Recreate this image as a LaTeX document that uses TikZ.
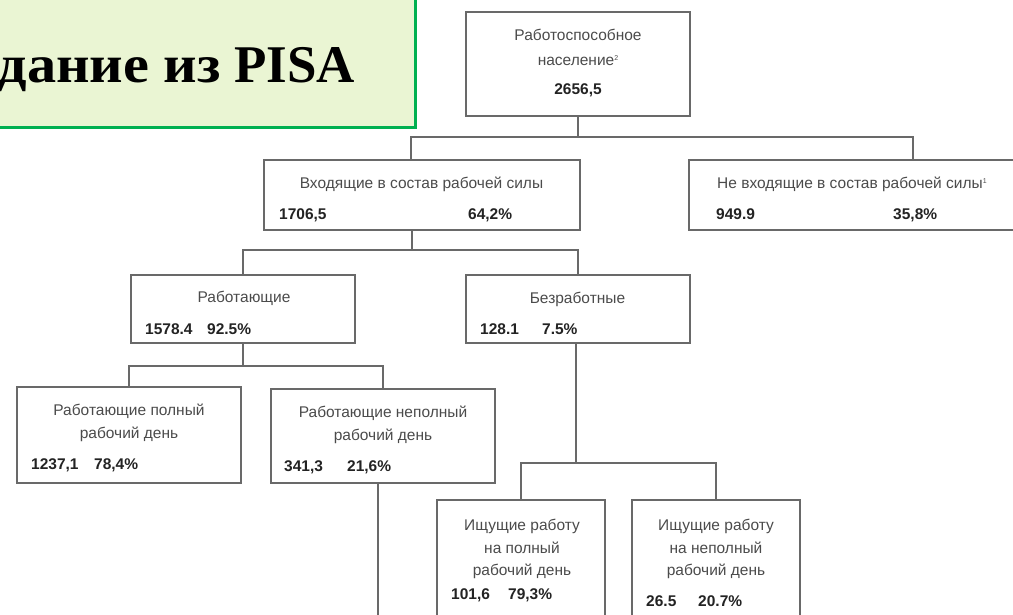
\documentclass[tikz,border=0pt]{standalone}
\usepackage{fontspec}
\usepackage{graphicx}
\setmainfont{Liberation Sans}
\newfontfamily\titlefont{Liberation Serif}
\usetikzlibrary{calc}
\definecolor{boxline}{RGB}{105,105,105}
\definecolor{txtgray}{RGB}{75,75,75}
\definecolor{numgray}{RGB}{35,35,35}
\definecolor{titlegreen}{RGB}{0,176,80}
\definecolor{titlefill}{RGB}{234,245,211}
\newcommand{\supmark}[1]{\raisebox{5pt}{\fontsize{7}{7}\selectfont #1}}
\begin{document}
\begin{tikzpicture}[x=1pt,y=-1pt,
  box/.style={draw=boxline, line width=2pt, inner sep=0pt},
  lbl/.style={text=txtgray, font=\fontsize{15.5}{18}\selectfont, inner sep=0pt, anchor=base},
  lblw/.style={lbl, anchor=base west},
  num/.style={text=numgray, font=\bfseries\fontsize{15.5}{18}\selectfont, inner sep=0pt, anchor=base west},
  numc/.style={num, anchor=base},
  link/.style={draw=boxline, line width=2pt}]
\useasboundingbox (0,0) rectangle (1013,614);
\fill[white] (0,0) rectangle (1013,614);

% title box
\node[draw=titlegreen, fill=titlefill, line width=3pt, minimum width=460pt, minimum height=160pt, anchor=south east, inner sep=0pt] (title) at (416.5,128.5) {};
\node[font=\titlefont\bfseries\fontsize{53}{60}\selectfont, anchor=base east, inner sep=0pt] (ttext) at (355,82) {\scalebox{1.1}[1]{дание из} PISA};

% boxes
\node[box, minimum width=224pt, minimum height=104pt] (top) at (578,64) {};
\node[box, minimum width=316pt, minimum height=70pt] (in) at (422,195) {};
\node[box, minimum width=448pt, minimum height=70pt] (notin) at (913,195) {};
\node[box, minimum width=224pt, minimum height=68pt] (work) at (243,309) {};
\node[box, minimum width=224pt, minimum height=68pt] (unemp) at (578,309) {};
\node[box, minimum width=224pt, minimum height=96pt] (full) at (129,435) {};
\node[box, minimum width=224pt, minimum height=94pt] (part) at (383,436) {};
\node[box, minimum width=168pt, minimum height=150pt] (sfull) at (521,575) {};
\node[box, minimum width=168pt, minimum height=150pt] (spart) at (716,575) {};

% connectors
\coordinate (bus1) at (0,137);
\coordinate (bus2) at (0,250);
\coordinate (bus3) at (0,366);
\coordinate (bus4) at (0,463);
\coordinate (pend) at (378,640);
\draw[link] (top.south) -- (top.south |- bus1) coordinate (b1);
\draw[link] ([xshift=-11pt]in.north) |- (b1) -| (notin.north);
\draw[link] ([xshift=-10pt]in.south) coordinate (s2) -- (s2 |- bus2);
\draw[link] (work.north) |- (bus2 -| unemp.north) -- (unemp.north);
\draw[link] (work.south) -- (work.south |- bus3);
\draw[link] (full.north) |- (bus3 -| part.north) -- (part.north);
\draw[link] ([xshift=-5pt]part.south) -- (pend);
\draw[link] ([xshift=-2pt]unemp.south) coordinate (s4) -- (s4 |- bus4);
\draw[link] (sfull.north) |- (bus4 -| spart.north) -- (spart.north);

% texts: top
\node[lbl] (t1) at (578,40) {Работоспособное};
\node[lbl] (t2) at (578,65) {население\supmark{2}};
\node[numc] (t3) at (578,94) {2656,5};
% in
\node[lbl] (i1) at (421.5,188) {Входящие в состав рабочей силы};
\node[num] (i2) at (279,219) {1706,5};
\node[num] (i3) at (468,219) {64,2\%};
% notin
\node[lblw] (n1) at (717,188) {Не входящие в состав рабочей силы\supmark{1}};
\node[num] (n2) at (716,219) {949.9};
\node[num] (n3) at (893,219) {35,8\%};
% work
\node[lbl] (w1) at (244,302) {Работающие};
\node[num] (w2) at (145,334) {1578.4};
\node[num] (w3) at (207,334) {92.5\%};
% unemp
\node[lbl] (u1) at (577.5,303) {Безработные};
\node[num] (u2) at (480,334) {128.1};
\node[num] (u3) at (542,334) {7.5\%};
% full
\node[lbl] (f1) at (129,415) {Работающие полный};
\node[lbl] (f2) at (129,438) {рабочий день};
\node[num] (f3) at (31,469) {1237,1};
\node[num] (f4) at (94,469) {78,4\%};
% part
\node[lbl] (p1) at (383,417) {Работающие неполный};
\node[lbl] (p2) at (383,440) {рабочий день};
\node[num] (p3) at (284,471) {341,3};
\node[num] (p4) at (347,471) {21,6\%};
% search full
\node[lbl] (a1) at (522,530) {Ищущие работу};
\node[lbl] (a2) at (522,553) {на полный};
\node[lbl] (a3) at (522,575) {рабочий день};
\node[num] (a4) at (451,599) {101,6};
\node[num] (a5) at (508,599) {79,3\%};
% search part
\node[lbl] (b1t) at (716,530) {Ищущие работу};
\node[lbl] (b2t) at (716,553) {на неполный};
\node[lbl] (b3t) at (716,575) {рабочий день};
\node[num] (b4t) at (646,606) {26.5};
\node[num] (b5t) at (698,606) {20.7\%};
\end{tikzpicture}
\end{document}
